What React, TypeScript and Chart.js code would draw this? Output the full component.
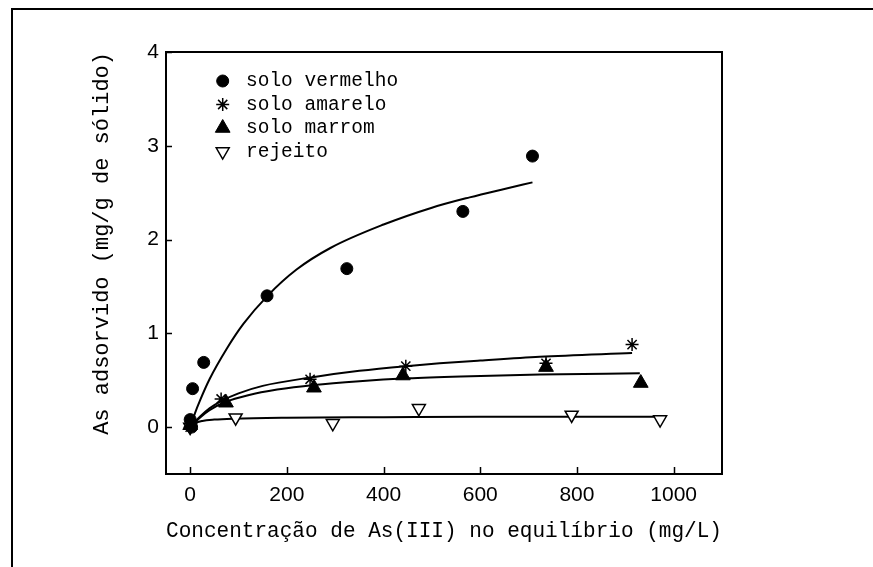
import React, { useEffect, useRef } from 'react';
import { Chart, registerables } from 'chart.js';
import { drawPoint } from 'chart.js/helpers';

Chart.register(...registerables);

// ---- measured points ----
const vermelhoX = [0, 3, 5, 28, 159, 324, 564, 708];
const vermelhoY = [0.08, 0.0, 0.41, 0.69, 1.4, 1.69, 2.3, 2.89];
const amareloX = [0, 64, 248, 446, 736, 914];
const amareloY = [0.0, 0.3, 0.51, 0.65, 0.68, 0.88];
const marromX = [0, 74, 256, 440, 736, 932];
const marromY = [0.02, 0.26, 0.42, 0.55, 0.64, 0.47];
const rejeitoX = [0, 94, 295, 473, 789, 972];
const rejeitoY = [0.0, 0.1, 0.04, 0.2, 0.13, 0.08];

// ---- fitted curves ----
const vermelhoCurveX = [0, 10, 20, 40, 75, 110, 160, 220, 290, 400, 500, 578, 650, 708];
const vermelhoCurveY = [0, 0.15, 0.28, 0.51, 0.83, 1.1, 1.4, 1.68, 1.91, 2.16, 2.34, 2.45, 2.54, 2.61];
const amareloCurveX = [0, 20, 40, 65, 100, 150, 250, 350, 446, 516, 600, 723, 914];
const amareloCurveY = [0, 0.11, 0.2, 0.28, 0.36, 0.44, 0.53, 0.6, 0.65, 0.68, 0.71, 0.75, 0.79];
const marromCurveX = [0, 20, 40, 74, 120, 180, 256, 350, 450, 560, 723, 930];
const marromCurveY = [0, 0.1, 0.18, 0.27, 0.34, 0.4, 0.45, 0.49, 0.52, 0.54, 0.56, 0.575];
const rejeitoCurveX = [0, 10, 25, 50, 90, 200, 400, 600, 800, 975];
const rejeitoCurveY = [0, 0.04, 0.065, 0.08, 0.09, 0.1, 0.105, 0.11, 0.11, 0.11];

// ---- labels & ticks ----
const seriesLabels = ['solo vermelho', 'solo amarelo', 'solo marrom', 'rejeito'];
const xTickValues = [0, 200, 400, 600, 800, 1000];
const yTickValues = [0, 1, 2, 3, 4];
const xTitle = 'Concentração de As(III) no equilíbrio (mg/L)';
const yTitle = 'As adsorvido (mg/g de sólido)';

const zip = (xs: number[], ys: number[]) => xs.map((x, i) => ({ x, y: ys[i] }));

const MONO = "'Liberation Mono', 'Courier New', monospace";
const SANS = "'Liberation Sans', Arial, sans-serif";

const pointStyles = [
  { pointStyle: 'circle', pointRadius: 6, pointRotation: 0, pointBackgroundColor: '#000', pointBorderColor: '#000', pointBorderWidth: 1 },
  { pointStyle: 'star', pointRadius: 6.5, pointRotation: 0, pointBackgroundColor: '#000', pointBorderColor: '#000', pointBorderWidth: 1.5 },
  { pointStyle: 'triangle', pointRadius: 8.5, pointRotation: 0, pointBackgroundColor: '#000', pointBorderColor: '#000', pointBorderWidth: 1 },
  { pointStyle: 'triangle', pointRadius: 7.5, pointRotation: 180, pointBackgroundColor: '#fff', pointBorderColor: '#000', pointBorderWidth: 1.5 },
];

const decorPlugin = {
  id: 'decor',
  beforeDraw(chart: any) {
    const ctx = chart.ctx;
    ctx.save();
    ctx.strokeStyle = '#000';
    ctx.lineWidth = 2;
    ctx.beginPath();
    ctx.moveTo(12, chart.height);
    ctx.lineTo(12, 9);
    ctx.lineTo(chart.width, 9);
    ctx.stroke();
    ctx.restore();
  },
  afterDraw(chart: any) {
    const ctx = chart.ctx;
    const { left, top, right, bottom } = chart.chartArea;
    ctx.save();
    ctx.strokeStyle = '#000';
    ctx.lineWidth = 2;
    ctx.beginPath();
    ctx.moveTo(left, top);
    ctx.lineTo(right, top);
    ctx.lineTo(right, bottom);
    ctx.stroke();

    // inward tick marks, placed through the scales
    ctx.lineWidth = 1.5;
    const xs = chart.scales.x;
    const ys = chart.scales.y;
    ctx.beginPath();
    xs.ticks.forEach((t: any) => {
      const px = Math.round(xs.getPixelForValue(t.value)) + 0.5;
      ctx.moveTo(px, bottom);
      ctx.lineTo(px, bottom - 7);
    });
    ys.ticks.forEach((t: any) => {
      const py = Math.round(ys.getPixelForValue(t.value)) + 0.5;
      ctx.moveTo(left, py);
      ctx.lineTo(left + 6, py);
    });
    ctx.stroke();

    // legend
    const mx = 222.7;
    const tx = 246;
    const y0 = 81;
    const dy = 23.5;
    ctx.font = `19.5px ${MONO}`;
    ctx.textBaseline = 'middle';
    ctx.textAlign = 'left';
    for (let i = 0; i < seriesLabels.length; i++) {
      const ds = chart.data.datasets[i];
      const y = y0 + dy * i;
      ctx.fillStyle = ds.pointBackgroundColor;
      ctx.strokeStyle = ds.pointBorderColor;
      ctx.lineWidth = ds.pointBorderWidth;
      drawPoint(ctx, {
        pointStyle: ds.pointStyle,
        rotation: ds.pointRotation,
        radius: ds.pointRadius,
        borderWidth: ds.pointBorderWidth,
      } as any, mx, y);
      ctx.fillStyle = '#000';
      ctx.fillText(ds.label, tx, y);
    }
    ctx.restore();
  },
};

export default function App() {
  const ref = useRef<HTMLCanvasElement | null>(null);

  useEffect(() => {
    if (!ref.current) return;
    const pts = [zip(vermelhoX, vermelhoY), zip(amareloX, amareloY), zip(marromX, marromY), zip(rejeitoX, rejeitoY)];
    const curves = [
      zip(vermelhoCurveX, vermelhoCurveY),
      zip(amareloCurveX, amareloCurveY),
      zip(marromCurveX, marromCurveY),
      zip(rejeitoCurveX, rejeitoCurveY),
    ];
    const datasets: any[] = [];
    pts.forEach((d, i) => {
      datasets.push({
        type: 'scatter',
        label: seriesLabels[i],
        data: d,
        showLine: false,
        order: 0,
        ...pointStyles[i],
      });
    });
    curves.forEach((d, i) => {
      datasets.push({
        type: 'line',
        label: seriesLabels[i] + ' (ajuste)',
        data: d,
        showLine: true,
        borderColor: '#000',
        borderWidth: 2,
        pointRadius: 0,
        fill: false,
        cubicInterpolationMode: 'monotone',
        order: 1,
      });
    });

    const chart = new Chart(ref.current, {
      type: 'scatter',
      data: { datasets },
      plugins: [decorPlugin],
      options: {
        responsive: false,
        animation: false,
        events: [],
        layout: { padding: { left: 0, top: 52, right: 151, bottom: 0 } },
        plugins: { legend: { display: false }, tooltip: { enabled: false } },
        scales: {
          x: {
            type: 'linear',
            min: -50,
            max: 1100,
            afterBuildTicks: (s: any) => {
              s.ticks = xTickValues.map((v) => ({ value: v }));
            },
            afterFit: (s: any) => {
              s.height = 93;
            },
            ticks: {
              font: { family: SANS, size: 21 },
              color: '#000',
              padding: 9,
              maxRotation: 0,
              autoSkip: false,
              callback: (v: any) => String(v),
            },
            grid: { display: false, drawTicks: false },
            border: { display: true, color: '#000', width: 2 },
            title: {
              display: true,
              text: xTitle,
              color: '#000',
              font: { family: MONO, size: 22 },
              padding: { top: 0, bottom: 23 },
            },
          },
          y: {
            type: 'linear',
            min: -0.5,
            max: 4,
            afterBuildTicks: (s: any) => {
              s.ticks = yTickValues.map((v) => ({ value: v }));
            },
            afterFit: (s: any) => {
              s.width = 166;
            },
            ticks: {
              font: { family: SANS, size: 21 },
              color: '#000',
              padding: 7,
              autoSkip: false,
              callback: (v: any) => String(v),
            },
            grid: { display: false, drawTicks: false },
            border: { display: true, color: '#000', width: 2 },
            title: {
              display: true,
              text: yTitle,
              color: '#000',
              align: 'end',
              font: { family: MONO, size: 22 },
              padding: { top: 89, bottom: 0 },
            },
          },
        },
      } as any,
    });
    return () => chart.destroy();
  }, []);

  return (
    <div style={{ position: 'fixed', left: 0, top: 0, width: 873, height: 567, background: '#fff' }}>
      <canvas ref={ref} width={873} height={567} style={{ display: 'block', width: 873, height: 567 }} />
    </div>
  );
}
